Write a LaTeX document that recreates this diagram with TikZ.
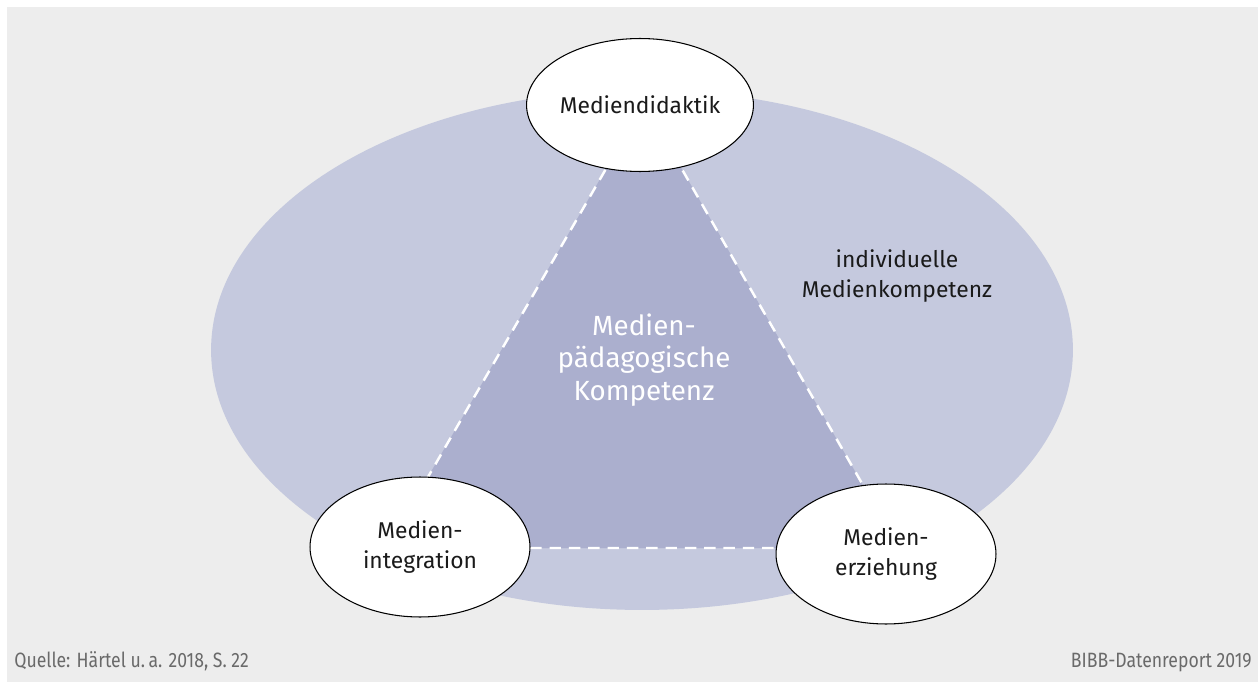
\documentclass[tikz,border=0pt]{standalone}
\usepackage{fontspec}
\setmainfont{Fira Sans}
\newfontfamily\footfont[FakeStretch=0.85]{Fira Sans}
\usepackage{xcolor}
\usetikzlibrary{shapes.geometric,positioning}
\definecolor{canvas}{HTML}{EDEDED}
\definecolor{outer}{HTML}{C5C9DE}
\definecolor{inner}{HTML}{ABAFCE}
\definecolor{ink}{HTML}{1A1A1A}
\definecolor{muted}{HTML}{6A6A6A}

\begin{document}
\begin{tikzpicture}[
  x=0.02cm,y=-0.02cm,
  field/.style={ellipse,fill=outer,inner sep=0pt,minimum width=17.24cm,minimum height=10.4cm},
  topic/.style={ellipse,draw=black,line width=0.6pt,fill=white,inner sep=0pt,minimum width=4.4cm,minimum height=2.8cm,font=\fontsize{13}{17.5}\selectfont,text=ink,align=center},
  edge/.style={draw=white,line width=1.4pt,dash pattern=on 6.5pt off 4.5pt},
  footnote/.style={font=\footfont\fontsize{11.8}{14}\selectfont,text=muted,inner sep=0pt}
]
\useasboundingbox (0,0) rectangle (1258,682);
\fill[canvas] (7,7) rectangle (1258,682);
% outer field
\node[field] (outerfield) at (642,350) {};
\node[font=\fontsize{13}{17.5}\selectfont,text=ink,align=center] (indiv) at (897,276) {individuelle\\Medienkompetenz};
% inner triangle
\coordinate (ta) at (644,103);
\coordinate (tb) at (387,548);
\coordinate (tc) at (899,548);
\fill[inner] (ta) -- (tb) -- (tc) -- cycle;
\draw[edge] (ta) -- (tb) -- (tc) -- cycle;
\node[font=\fontsize{15.8}{18.4}\selectfont,text=white,align=center] (core) at (644,360) {Medien-\\pädagogische\\Kompetenz};
% corner ellipses
\node[topic,minimum height=2.66cm] (didaktik) at (640,105) {Mediendidaktik};
\node[topic] (integration) at (420,547) {Medien-\\integration};
\node[topic] (erziehung) at (886,554) {Medien-\\erziehung};
% footer
\node[footnote,anchor=base west] (source) at (14,667) {Quelle: Härtel u.\,a. 2018, S. 22};
\node[footnote,anchor=base east] (report) at (1252,667) {BIBB-Datenreport 2019};
\end{tikzpicture}
\end{document}
